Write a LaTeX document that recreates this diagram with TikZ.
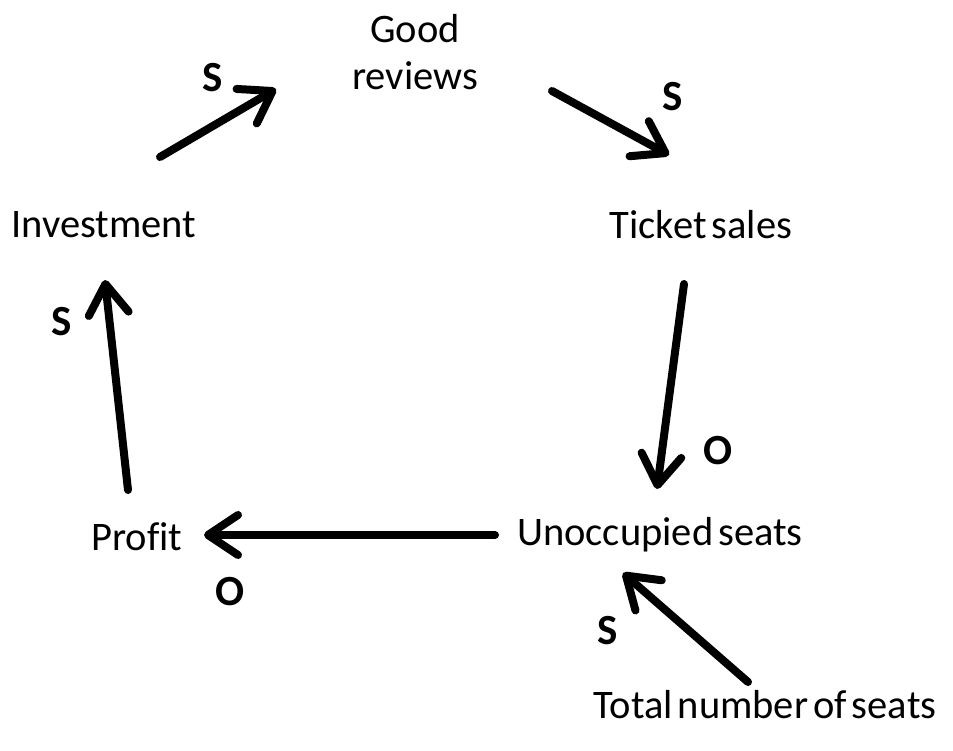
\documentclass[tikz,border=0pt]{standalone}
\usepackage{fontspec}
\setmainfont{Carlito}[Ligatures=NoCommon, WordSpace=0.55]
\usetikzlibrary{arrows.meta}
\begin{document}
\begin{tikzpicture}[x=1pt,y=-1pt,
  var/.style={font=\fontsize{40.5}{47}\selectfont, align=center, inner sep=0pt},
  sign/.style={font=\fontsize{43}{47}\selectfont\bfseries, inner sep=0pt},
  link/.style={line width=8pt, line cap=round,
    -{Straight Barb[length=30pt,width=40pt,line cap=round,line join=round]}}]
\useasboundingbox (0,0) rectangle (953,750);
% variables
\node[var] (good) at (415,52) {Good\\reviews};
\node[var] (ticket) at (701,225) {Ticket sales};
\node[var] (inv) at (104,225) {Investment};
\node[var] (profit) at (137,537) {Profit};
\node[var] (unocc) at (660,535) {Unoccupied seats};
\node[var] (total) at (765,705) {Total number of seats};
% arrow end points
\coordinate (a1) at (160,157); \coordinate (b1) at (276,89);
\coordinate (a2) at (552,91);  \coordinate (b2) at (669,155);
\coordinate (a3) at (684,284); \coordinate (b3) at (657,489);
\coordinate (a4) at (495,535); \coordinate (b4) at (204,535);
\coordinate (a5) at (128,490); \coordinate (b5) at (105,280);
\coordinate (a6) at (748,682); \coordinate (b6) at (623,573);
% causal links
\draw[link] (a1) -- (b1);
\draw[link] (a2) -- (b2);
\draw[link] (a3) -- (b3);
\draw[link] (a4) -- (b4);
\draw[link] (a5) -- (b5);
\draw[link] (a6) -- (b6);
% polarity labels
\node[sign] (s1) at (213,78) {S};
\node[sign] (s2) at (673,97) {S};
\node[sign] (o1) at (718,451) {O};
\node[sign] (o2) at (230,592) {O};
\node[sign] (s3) at (62,322) {S};
\node[sign] (s4) at (608,631) {S};
\end{tikzpicture}
\end{document}
